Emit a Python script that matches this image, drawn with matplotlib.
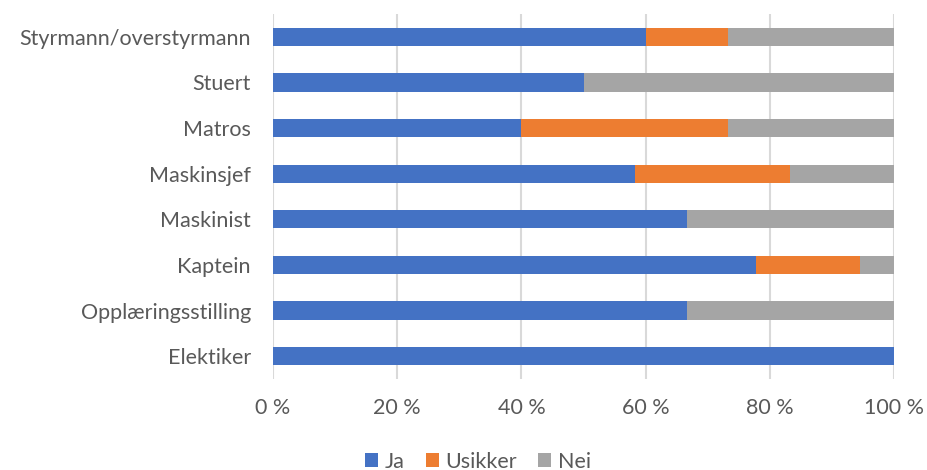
import numpy as np
import matplotlib.pyplot as plt

plt.rcParams['font.family'] = ['Lato', 'DejaVu Sans']

# stillinger, nederst til øverst
stillinger = ["Elektiker", "Opplæringsstilling", "Kaptein", "Maskinist",
              "Maskinsjef", "Matros", "Stuert", "Styrmann/overstyrmann"]
ja = [100.0, 66.7, 77.8, 66.7, 58.3, 40.0, 50.0, 60.0]
usikker = [0.0, 0.0, 16.7, 0.0, 25.0, 33.3, 0.0, 13.3]
nei = [0.0, 33.3, 5.6, 33.3, 16.7, 26.7, 50.0, 26.7]

farger = {"Ja": "#4472c4", "Usikker": "#ed7d31", "Nei": "#a5a5a5"}
tekst = "#595959"

fig = plt.figure(figsize=(9.27, 4.70), dpi=100)
ax = fig.add_axes([273/927, 1 - 379/470, (894 - 273)/927, (379 - 14)/470])

y = np.arange(len(stillinger))
venstre = np.zeros(len(stillinger))
for navn, verdier in [("Ja", ja), ("Usikker", usikker), ("Nei", nei)]:
    ax.barh(y, verdier, left=venstre, height=0.4, color=farger[navn],
            label=navn, zorder=3)
    venstre += np.array(verdier)

ax.set_xlim(0, 100)
ax.set_ylim(-0.5, len(stillinger) - 0.5)
ax.set_xticks(np.arange(0, 101, 20))
ax.set_xticklabels([f"{v} %" for v in range(0, 101, 20)])
ax.set_yticks(y)
ax.set_yticklabels(stillinger)
ax.tick_params(length=0, labelsize=15.5, colors=tekst)
ax.tick_params(axis='y', pad=16)
ax.tick_params(axis='x', pad=14)
ax.xaxis.grid(True, color="#d9d9d9", linewidth=1.5, zorder=0)
for s in ax.spines.values():
    s.set_visible(False)

ax.legend(loc="upper center", bbox_to_anchor=(0.33, -0.17), ncol=3, frameon=False,
          fontsize=15.5, labelcolor=tekst, handlelength=0.6, handleheight=0.6,
          handletextpad=0.3, columnspacing=1.0, borderpad=0)

fig.savefig("out.png", dpi=100)
